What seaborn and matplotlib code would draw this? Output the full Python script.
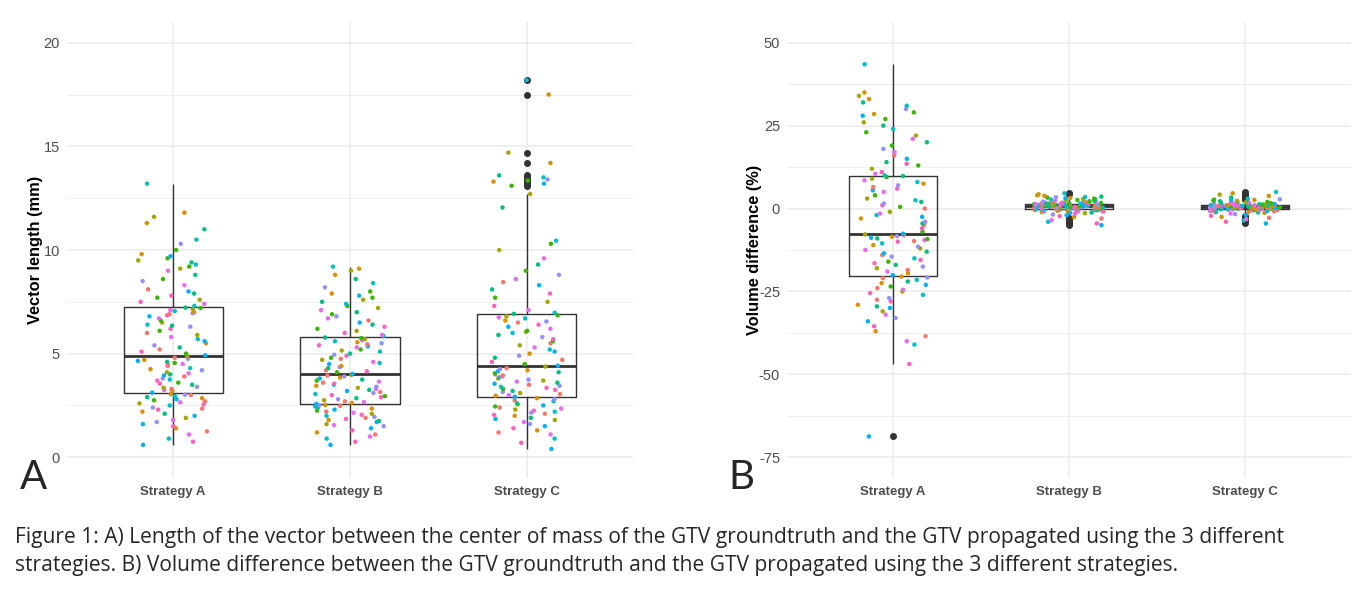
import numpy as np
import pandas as pd
import matplotlib
matplotlib.use("Agg")
import matplotlib.pyplot as plt
import seaborn as sns
from matplotlib.ticker import MultipleLocator

# categories and patient colouring (same patient order for every sorted series)
strategies = ["Strategy A", "Strategy B", "Strategy C"]
patient_ids = [6, 9, 5, 8, 0, 1, 9, 6, 7, 8, 2, 6, 4, 1, 9, 0, 7, 5, 9, 2, 8, 0, 3, 6, 1, 4, 5, 0, 7, 1,
               6, 1, 8, 0, 2, 7, 4, 9, 3, 9, 5, 7, 0, 6, 4, 8, 2, 7, 1, 5, 9, 0, 8, 3, 4, 6, 1, 7, 0, 2,
               6, 3, 9, 0, 4, 7, 1, 6, 5, 8, 2, 0, 3, 9, 7, 4, 5, 2, 3, 8, 6, 9, 0, 7, 1, 5, 8, 2, 3, 4,
               5, 8, 9, 2, 3, 9, 4, 6, 0, 8, 7, 3, 4, 8, 2, 3, 5, 4, 2, 3, 6, 1, 3, 7, 5, 4, 1, 2, 1, 5]
patient_colors = ["#F8766D", "#D89000", "#A3A500", "#39B600", "#00BF7D",
                  "#00BFC4", "#00B0F6", "#9590FF", "#E76BF3", "#FF62BC"]

# A) vector length (mm)
vector_a = [0.6, 0.75, 0.9, 1.1, 1.25, 1.4, 1.5, 1.6, 1.7, 1.8, 1.9, 2.0, 2.1, 2.2, 2.3,
            2.35, 2.4, 2.5, 2.55, 2.6, 2.65, 2.7, 2.75, 2.8, 2.85, 2.9, 2.95, 3.0, 3.02, 3.05,
            3.12, 3.2, 3.25, 3.3, 3.35, 3.4, 3.5, 3.55, 3.6, 3.7, 3.75, 3.8, 3.9, 3.95, 4.0,
            4.05, 4.1, 4.2, 4.25, 4.3, 4.4, 4.45, 4.5, 4.55, 4.6, 4.65, 4.7, 4.75, 4.8, 4.88,
            4.92, 5.0, 5.1, 5.2, 5.3, 5.4, 5.5, 5.6, 5.7, 5.8, 5.9, 6.0, 6.1, 6.2, 6.3,
            6.35, 6.4, 6.5, 6.6, 6.7, 6.8, 6.85, 6.9, 6.95, 7.0, 7.05, 7.1, 7.15, 7.2, 7.22,
            7.3, 7.4, 7.5, 7.6, 7.7, 7.8, 7.9, 8.0, 8.1, 8.3, 8.5, 8.6, 8.8, 9.0, 9.1,
            9.2, 9.3, 9.4, 9.5, 9.6, 9.7, 9.8, 10.0, 10.3, 10.5, 11.0, 11.3, 11.6, 11.8, 13.2]
vector_b = [0.6, 0.75, 0.9, 1.0, 1.1, 1.2, 1.3, 1.4, 1.5, 1.55, 1.6, 1.7, 1.75, 1.8, 1.85,
            1.9, 1.95, 2.0, 2.05, 2.1, 2.15, 2.2, 2.25, 2.3, 2.35, 2.4, 2.45, 2.48, 2.5, 2.52,
            2.58, 2.62, 2.66, 2.7, 2.75, 2.8, 2.85, 2.9, 2.95, 3.0, 3.05, 3.1, 3.15, 3.2, 3.25,
            3.3, 3.35, 3.4, 3.45, 3.5, 3.55, 3.6, 3.65, 3.7, 3.75, 3.8, 3.85, 3.9, 3.95, 3.98,
            4.02, 4.1, 4.15, 4.2, 4.3, 4.35, 4.4, 4.5, 4.55, 4.6, 4.7, 4.75, 4.8, 4.9, 4.95,
            5.0, 5.1, 5.15, 5.2, 5.3, 5.35, 5.4, 5.45, 5.5, 5.55, 5.6, 5.65, 5.7, 5.75, 5.78,
            5.85, 5.9, 6.0, 6.1, 6.2, 6.3, 6.4, 6.5, 6.6, 6.7, 6.8, 6.9, 7.0, 7.1, 7.2,
            7.3, 7.4, 7.5, 7.6, 7.7, 7.8, 7.9, 8.0, 8.2, 8.4, 8.6, 8.8, 9.0, 9.1, 9.2]
vector_c = [0.4, 0.7, 0.9, 1.1, 1.2, 1.3, 1.4, 1.5, 1.6, 1.7, 1.8, 1.85, 1.9, 2.0, 2.05,
            2.1, 2.15, 2.2, 2.25, 2.3, 2.35, 2.4, 2.45, 2.5, 2.55, 2.6, 2.7, 2.75, 2.8, 2.85,
            2.92, 2.97, 3.0, 3.05, 3.1, 3.15, 3.2, 3.25, 3.3, 3.35, 3.4, 3.45, 3.5, 3.55, 3.6,
            3.65, 3.7, 3.75, 3.8, 3.85, 3.9, 3.95, 4.0, 4.05, 4.1, 4.15, 4.2, 4.25, 4.3, 4.38,
            4.42, 4.5, 4.6, 4.7, 4.8, 4.9, 5.0, 5.1, 5.2, 5.3, 5.4, 5.5, 5.6, 5.7, 5.8,
            5.9, 6.0, 6.05, 6.1, 6.2, 6.3, 6.4, 6.5, 6.55, 6.6, 6.7, 6.75, 6.8, 6.85, 6.92,
            6.98, 7.1, 7.3, 7.5, 7.7, 7.9, 8.1, 8.3, 8.45, 8.6, 8.8, 9.0, 9.3, 9.6, 10.0,
            10.3, 10.45, 12.05, 12.7, 13.1, 13.2, 13.3, 13.35, 13.4, 13.5, 13.6, 14.2, 14.7, 17.5, 18.2]

# B) volume difference (%)
volume_a = [-68.7, -46.9, -41, -40, -38.5, -37, -35.5, -34, -33, -32, -31, -30, -29.5, -29, -28,
            -27.5, -27, -26, -25.5, -25, -24.5, -24, -23.5, -23, -22.5, -22, -21.5, -21, -20.8, -20.5,
            -20.1, -19.5, -19, -18.5, -18, -17.5, -17, -16.5, -16, -15.5, -15, -14.5, -14, -13.5, -13,
            -12.5, -12, -11.5, -11, -10.5, -10, -9.8, -9.5, -9.2, -9, -8.8, -8.5, -8.3, -8, -7.8,
            -7.6, -7, -6, -5, -4.5, -4, -3, -2.5, -2, -1.5, -1, 0, 0.5, 1, 1.5,
            2, 2.5, 3, 4, 5, 5.5, 6, 6.5, 7, 7.5, 8, 8.5, 9, 9.5, 9.8,
            10, 10.5, 11, 12, 13, 13.5, 14, 15, 16, 17, 18, 19, 20, 21, 22,
            23, 24, 25, 26, 27, 28, 28.5, 29, 30, 31, 32, 33, 34, 35, 43.5]
volume_b = [-5.0, -4.5, -4.0, -3.5, -3.0, -2.6, -2.3, -2.0, -1.8, -1.6, -1.4, -1.3, -1.2, -1.1, -1.0,
            -0.9, -0.85, -0.8, -0.75, -0.7, -0.65, -0.6, -0.55, -0.5, -0.45, -0.4, -0.35, -0.3, -0.28, -0.25,
            -0.18, -0.15, -0.12, -0.1, -0.05, 0, 0.02, 0.05, 0.08, 0.1, 0.13, 0.16, 0.2, 0.23, 0.26,
            0.3, 0.33, 0.36, 0.4, 0.43, 0.46, 0.5, 0.52, 0.55, 0.58, 0.6, 0.62, 0.65, 0.67, 0.69,
            0.71, 0.74, 0.77, 0.8, 0.83, 0.86, 0.9, 0.93, 0.96, 1.0, 1.03, 1.06, 1.1, 1.13, 1.16,
            1.2, 1.23, 1.26, 1.3, 1.32, 1.34, 1.36, 1.38, 1.4, 1.42, 1.44, 1.46, 1.47, 1.48, 1.49,
            1.52, 1.56, 1.6, 1.65, 1.7, 1.75, 1.8, 1.85, 1.9, 2.0, 2.1, 2.2, 2.3, 2.4, 2.5,
            2.6, 2.7, 2.8, 2.9, 3.0, 3.1, 3.2, 3.3, 3.4, 3.5, 3.6, 3.8, 4.0, 4.3, 4.6]
volume_c = [-4.5, -4.0, -3.6, -3.2, -2.8, -2.5, -2.2, -1.9, -1.7, -1.5, -1.3, -1.2, -1.1, -1.0, -0.9,
            -0.8, -0.75, -0.7, -0.65, -0.6, -0.55, -0.5, -0.45, -0.4, -0.37, -0.34, -0.31, -0.28, -0.26, -0.24,
            -0.18, -0.15, -0.12, -0.1, -0.08, -0.05, -0.02, 0, 0.02, 0.05, 0.07, 0.1, 0.12, 0.15, 0.17,
            0.2, 0.22, 0.25, 0.27, 0.3, 0.32, 0.34, 0.36, 0.38, 0.4, 0.42, 0.44, 0.46, 0.47, 0.49,
            0.51, 0.53, 0.55, 0.57, 0.59, 0.61, 0.63, 0.65, 0.67, 0.69, 0.71, 0.73, 0.75, 0.77, 0.79,
            0.81, 0.83, 0.85, 0.86, 0.88, 0.89, 0.9, 0.91, 0.92, 0.93, 0.94, 0.95, 0.96, 0.97, 0.98,
            1.02, 1.06, 1.1, 1.15, 1.2, 1.25, 1.3, 1.35, 1.4, 1.45, 1.5, 1.6, 1.7, 1.8, 1.9,
            2.0, 2.1, 2.2, 2.3, 2.4, 2.5, 2.6, 2.7, 2.8, 3.0, 3.3, 3.8, 4.2, 4.6, 5.0]

caption = ["Figure 1: A) Length of the vector between the center of mass of the GTV groundtruth and the GTV propagated using the 3 different",
           "strategies. B) Volume difference between the GTV groundtruth and the GTV propagated using the 3 different strategies."]


def make_frame(series):
    rows = []
    for name, values in zip(strategies, series):
        for pid, v in zip(patient_ids, values):
            rows.append({"strategy": name, "value": v, "patient": f"P{pid + 1:02d}"})
    return pd.DataFrame(rows)


sns.set_theme(style="white")
plt.rcParams["font.family"] = ["Liberation Sans", "DejaVu Sans"]
plt.rcParams["axes.unicode_minus"] = False
np.random.seed(7)

fig = plt.figure(figsize=(13.72, 5.98), dpi=100)
ax_a = fig.add_axes([67 / 1372, 1 - 478 / 598, 566 / 1372, 456 / 598])
ax_b = fig.add_axes([787 / 1372, 1 - 478 / 598, 564 / 1372, 456 / 598])

hue_order = [f"P{i + 1:02d}" for i in range(10)]

panels = [
    (ax_a, make_frame([vector_a, vector_b, vector_c]), "Vector length (mm)", 0.56,
     (-1, 21), 5, 2.5, -0.042),
    (ax_b, make_frame([volume_a, volume_b, volume_c]), "Volume difference (%)", 0.5,
     (-81.25, 56.25), 25, 12.5, -0.045),
]

for ax, df, ylabel, box_w, ylim, major, minor, lab_x in panels:
    sns.boxplot(data=df, x="strategy", y="value", order=strategies, ax=ax,
                width=box_w, fill=False, color="#333333", linewidth=1.0,
                showcaps=False, whis=1.5,
                medianprops=dict(color="#333333", linewidth=2.0),
                flierprops=dict(marker="o", markersize=4, markerfacecolor="#333333",
                                markeredgecolor="#333333"))
    sns.stripplot(data=df, x="strategy", y="value", order=strategies, hue="patient",
                  hue_order=hue_order, palette=patient_colors, jitter=0.2, size=3.2,
                  linewidth=0, legend=False, ax=ax, zorder=3)

    ax.set_xlim(-0.6, 2.6)
    ax.set_ylim(*ylim)
    ax.yaxis.set_major_locator(MultipleLocator(major))
    ax.yaxis.set_minor_locator(MultipleLocator(minor))
    ax.grid(True, which="major", color="#EBEBEB", linewidth=1.1, zorder=0)
    ax.grid(True, which="minor", axis="y", color="#EBEBEB", linewidth=0.6, zorder=0)
    ax.set_axisbelow(True)
    for s in ax.spines.values():
        s.set_visible(False)
    ax.tick_params(axis="both", which="both", length=0)
    ax.tick_params(axis="y", labelsize=10.5, labelcolor="#4D4D4D", pad=5)
    ax.tick_params(axis="x", labelsize=9.5, labelcolor="#4D4D4D", pad=6)
    for lbl in ax.get_xticklabels():
        lbl.set_fontweight("bold")
    ax.set_xlabel("")
    ax.set_ylabel(ylabel, fontsize=11.8, fontweight="bold", color="black")
    ax.yaxis.set_label_coords(lab_x, 0.5)

# panel letters and figure caption
fig.text(20 / 1372, 1 - 489 / 598, "A", fontsize=29, family="Lato", va="baseline")
fig.text(728 / 1372, 1 - 489 / 598, "B", fontsize=29, family="Lato", va="baseline")
cap1 = fig.text(15 / 1372, 1 - 543 / 598, caption[0], fontsize=14, family="Open Sans", va="baseline")
cap2 = fig.text(15 / 1372, 1 - 571 / 598, caption[1], fontsize=14, family="Open Sans", va="baseline")

# fit the caption's first line to the width it has in the reference
fig.canvas.draw()
w = cap1.get_window_extent().width
scale = 1278 / w
cap1.set_fontsize(14 * scale)
cap2.set_fontsize(14 * scale)

fig.savefig("out.png", dpi=100, facecolor="white")
